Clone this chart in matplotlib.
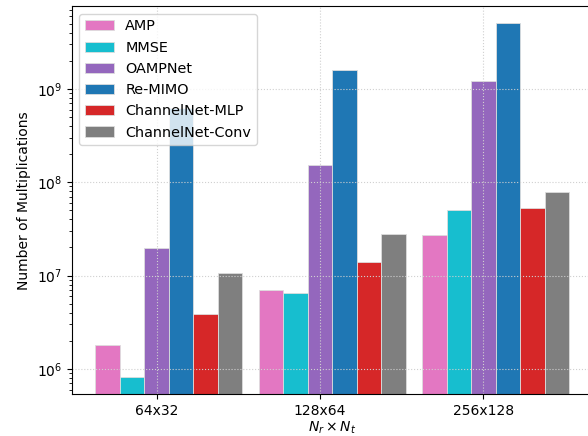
import numpy as np
import matplotlib.pyplot as plt

# 各天線規模下的乘法次數
sizes = ['64x32', '128x64', '256x128']
methods = ['AMP', 'MMSE', 'OAMPNet', 'Re-MIMO', 'ChannelNet-MLP', 'ChannelNet-Conv']
colors = ['#e377c2', '#17becf', '#9467bd', '#1f77b4', '#d62728', '#7f7f7f']

amp = [1.8e6, 7.0e6, 2.7e7]
mmse = [8.2e5, 6.5e6, 5.0e7]
oampnet = [1.95e7, 1.52e8, 1.2e9]
re_mimo = [6.2e8, 1.6e9, 5.1e9]
cn_mlp = [3.9e6, 1.4e7, 5.3e7]
cn_conv = [1.07e7, 2.8e7, 7.9e7]

values = [amp, mmse, oampnet, re_mimo, cn_mlp, cn_conv]

fig = plt.figure(figsize=(5.88, 4.36), dpi=100)
ax = fig.add_axes([0.122, 0.0963, 0.886, 0.889])

x = np.arange(len(sizes))
width = 0.15
for i, (name, vals) in enumerate(zip(methods, values)):
    ax.bar(x + (i - 2) * width, vals, width, label=name, color=colors[i],
           edgecolor='#dddddd', linewidth=0.6)

ax.set_yscale('log')
ax.set_ylim(10 ** 5.732, 10 ** 9.882)
ax.set_xlim(-0.52, 2.67)
ax.set_xticks(x)
ax.set_xticklabels(sizes)
ax.set_xlabel(r'$N_r \times N_t$', labelpad=1)
ax.set_ylabel('Number of Multiplications')
ax.grid(True, which='major', linestyle=':', color='#d0d0d0', linewidth=0.8)
ax.legend(loc='upper left', prop={'size': 10.4})

fig.savefig('out.png', dpi=100)
